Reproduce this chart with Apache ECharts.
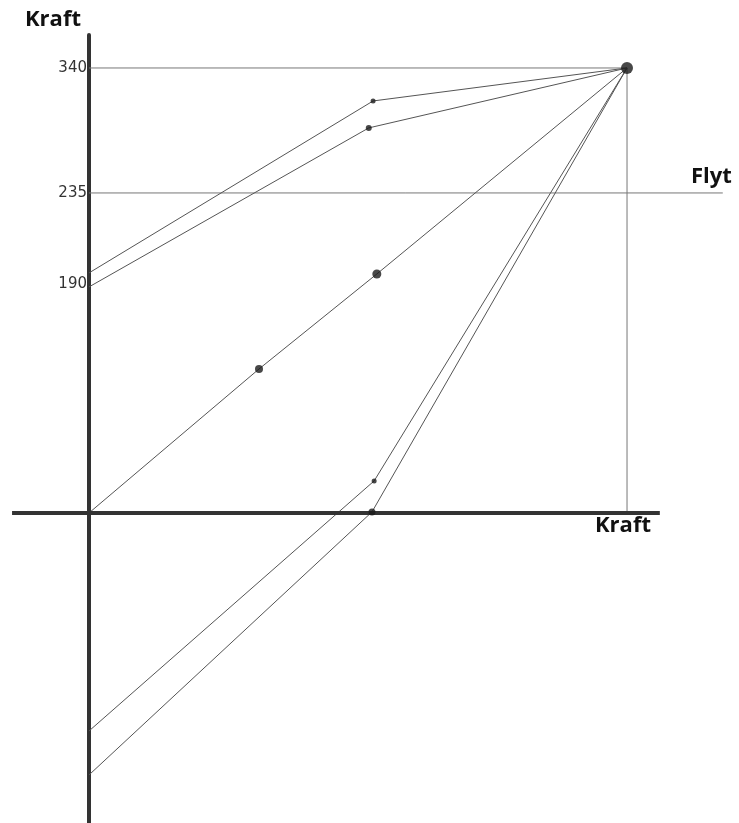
<!DOCTYPE html>
<html>
<head>
<meta charset="utf-8">
<script src="https://cdn.jsdelivr.net/npm/echarts@6/dist/echarts.min.js"></script>
<style>html,body{margin:0;padding:0;background:#fff;}#c{width:739px;height:823px;}</style>
</head>
<body>
<div id="c"></div>
<script>
// y tick labels (placed where the drawing puts them)
const yTickValues = [175.0, 244.5, 340];
const yTickLabels = ['190', '235', '340'];

// guide lines
const guide340 = [[0, 340], [100, 340]];
const guideVertical = [[100, 340], [100, 0]];
const guideFlyt = [[0, 244.5], [117.8, 244.5]];
const xAxisLine = [[-14.3, 0], [106.1, 0]];

// force curves
const curve1 = [[0, 183.4], [52.8, 314.8], [100, 340]];
const curve2 = [[0, 172.7], [52.0, 294.2], [100, 340]];
const curve3 = [[0, 0], [31.6, 110.0], [53.5, 182.6], [100, 340]];
const curve4 = [[0, -166.6], [53.0, 24.5], [100, 340]];
const curve5 = [[0, -200.2], [52.6, 0.8], [100, 340]];

// marked points [x, y, size]
const dots = [
  [100, 340, 12],
  [53.5, 182.6, 9],
  [31.6, 110.0, 8],
  [52.8, 314.8, 5],
  [52.0, 294.2, 6],
  [53.0, 24.5, 5],
  [52.6, 0.8, 7]
];

const chart = echarts.init(document.getElementById('c'));
const thin = (data, color) => ({
  type: 'line', data: data, symbol: 'none', silent: true,
  lineStyle: {color: color, width: 1}, z: 2
});
chart.setOption({
  animation: false,
  backgroundColor: '#fff',
  grid: {left: 12, right: 16, top: 35, bottom: 0, containLabel: false, outerBoundsMode: 'none'},
  xAxis: {
    type: 'value', min: -14.31, max: 117.84,
    axisLine: {show: false}, axisTick: {show: false},
    axisLabel: {show: false}, splitLine: {show: false}
  },
  yAxis: {
    type: 'value', min: -236.9, max: 365.2,
    axisLine: {show: true, onZero: true, lineStyle: {color: '#333', width: 4}},
    axisTick: {show: false},
    splitLine: {show: false},
    axisLabel: {
      show: true, customValues: yTickValues, margin: -75,
      color: '#333', fontSize: 15, fontFamily: 'DejaVu Sans',
      padding: [6, 0, 0, 0],
      formatter: function (v) {
        const i = yTickValues.indexOf(v);
        return i >= 0 ? yTickLabels[i] : '';
      }
    }
  },
  graphic: [
    {type: 'text', left: 25, top: 9, style: {text: 'Kraft', font: 'bold 22px "Open Sans"', fill: '#111'}},
    {type: 'text', left: 595, top: 515, style: {text: 'Kraft', font: 'bold 22px "Open Sans"', fill: '#111'}},
    {type: 'text', left: 691, top: 166, style: {text: 'Flyt', font: 'bold 22px "Open Sans"', fill: '#111'}}
  ],
  series: [
    thin(guide340, '#777'),
    thin(guideVertical, '#777'),
    thin(guideFlyt, '#777'),
    {type: 'line', data: xAxisLine, symbol: 'none', silent: true,
     lineStyle: {color: '#333', width: 4}, z: 5},
    thin(curve1, '#555'),
    thin(curve2, '#555'),
    thin(curve3, '#555'),
    thin(curve4, '#555'),
    thin(curve5, '#555'),
    {type: 'scatter', data: dots.map(d => [d[0], d[1]]),
     symbolSize: function (v, p) { return dots[p.dataIndex][2]; },
     itemStyle: {color: '#1a1a1a'}, z: 6}
  ]
});
</script>
</body>
</html>
